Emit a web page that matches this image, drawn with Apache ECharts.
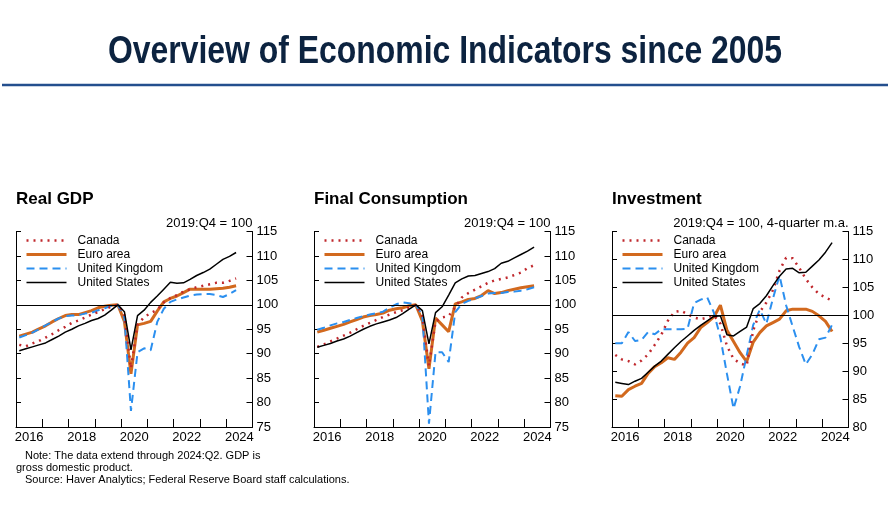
<!DOCTYPE html>
<html><head><meta charset="utf-8">
<script src="https://cdn.jsdelivr.net/npm/echarts@6/dist/echarts.min.js"></script>
<style>html,body{margin:0;padding:0;background:#fff}#c{width:890px;height:506px}</style>
</head><body><div id="c"></div>
<script>
// ---- categories ----
const quarters = [];
for (let y = 2016; y <= 2024; y++) for (let q = 1; q <= 4; q++) quarters.push(y + ':Q' + q);
const yearLabels = ['2016','2017','2018','2019','2020','2021','2022','2023','2024'];
const seriesNames = ['Canada','Euro area','United Kingdom','United States'];

// ---- Real GDP (2019:Q4 = 100), 2016:Q1 - 2024:Q2 ----
const gdpCanada = [91.8,91.5,92.1,92.6,93.3,94.0,94.8,95.5,96.3,96.8,97.4,98.0,98.5,99.1,99.6,100,97.9,87.0,95.9,97.5,98.3,99.0,100.5,101.4,102.0,102.7,103.2,103.6,103.9,104.2,104.5,104.5,104.9,105.4];
const gdpEuro   = [93.6,94.0,94.4,95.1,95.7,96.5,97.2,97.8,98.0,98.0,98.4,98.8,99.4,99.7,99.9,100,96.6,85.9,95.9,96.2,96.6,98.7,100.6,101.3,101.8,102.5,103.2,103.2,103.2,103.2,103.3,103.4,103.6,103.9];
const gdpUK     = [93.3,93.8,94.3,95.0,95.8,96.5,97.2,97.7,97.8,97.9,98.2,98.4,98.9,99.3,99.8,100,97.4,78.3,90.3,91.1,90.7,96.5,99.2,100.6,101.1,101.5,101.9,102.1,102.2,102.2,102.0,101.6,102.2,103.0];
const gdpUS     = [90.6,91.0,91.4,91.8,92.2,92.9,93.6,94.4,95.0,95.7,96.2,96.8,97.2,97.9,98.9,100,98.6,90.8,97.8,98.9,100.5,101.8,103.2,104.6,104.4,104.5,105.2,106.0,106.6,107.3,108.3,109.3,109.9,110.7];

// ---- Final consumption ----
const conCanada = [91.4,91.9,92.5,93.1,93.7,94.3,95.0,95.7,96.3,96.9,97.5,98.0,98.5,98.9,99.5,100,97.6,87.5,96.6,97.4,97.7,99.5,101.5,102.4,103.1,103.8,104.5,105.0,105.3,105.6,106.1,106.6,107.5,108.1];
const conEuro   = [94.4,94.8,95.2,95.6,96.0,96.5,97.0,97.5,97.8,98.0,98.3,98.9,99.2,99.4,99.8,100,96.7,86.9,97.3,95.9,94.5,100.2,100.6,101.1,101.3,101.9,102.9,102.3,102.5,102.9,103.2,103.5,103.7,103.9];
const conUK     = [94.9,95.3,95.8,96.2,96.5,96.9,97.3,97.7,98.0,98.3,98.6,99.4,100.1,100.5,100.3,100,97.8,75.7,90.3,90.3,88.3,98.5,100.2,100.8,101.3,101.8,102.3,102.4,102.4,102.6,102.7,102.9,103.2,103.6];
const conUS     = [91.3,91.7,92.1,92.6,93.0,93.6,94.3,95.0,95.6,96.1,96.5,96.9,97.4,98.2,99.1,100,98.8,92.0,98.4,99.6,102.0,104.5,105.3,105.9,106.0,106.4,106.8,107.4,108.5,108.9,109.6,110.3,111.0,111.8];

// ---- Investment (4-quarter m.a.) ----
const invCanada = [92.9,92.1,91.8,91.2,91.9,93.0,94.7,96.5,99.0,100.6,100.8,100.2,99.6,99.3,99.6,100.0,98.5,94.5,92.2,91.4,91.0,97.3,100.6,102.3,104.5,108.0,110.3,110.2,108.5,106.5,105.0,103.8,103.2,102.6];
const invEuro   = [85.6,85.5,86.7,87.3,87.8,89.6,90.8,91.5,92.4,92.1,93.4,95.0,96.0,97.8,98.7,99.7,101.8,97.3,95.3,93.3,91.7,95.2,96.9,98.1,98.7,99.3,100.8,101.1,101.1,101.1,100.7,99.9,98.9,97.1];
const invUK     = [95.0,95.0,97.0,95.4,95.6,97.0,96.6,97.5,97.5,97.5,97.5,97.6,102.2,102.8,103.2,100.5,96.0,89.5,83.3,87.3,92.8,98.3,101.0,98.5,103.0,107.1,101.8,98.0,94.3,91.2,93.0,95.7,96.0,98.3];
const invUS     = [88.0,87.8,87.6,88.2,88.7,89.8,90.9,91.8,93.0,94.2,95.3,96.3,97.3,98.2,99.0,99.8,99.9,96.5,96.3,97.1,97.9,101.2,102.1,103.5,105.3,107.0,108.3,108.4,107.6,107.7,108.8,109.9,111.3,113.0];

const yTicksGDP = {min: 75, max: 115, interval: 5};
const yTicksInv = {min: 80, max: 115, interval: 5};

const panels = [
  {title: 'Real GDP', note: '2019:Q4 = 100', left: 16, y: yTicksGDP, data: [gdpCanada, gdpEuro, gdpUK, gdpUS]},
  {title: 'Final Consumption', note: '2019:Q4 = 100', left: 314, y: yTicksGDP, data: [conCanada, conEuro, conUK, conUS]},
  {title: 'Investment', note: '2019:Q4 = 100, 4-quarter m.a.', left: 612, y: yTicksInv, data: [invCanada, invEuro, invUK, invUS]}
];

const FONT = "'Liberation Sans', Arial, Helvetica, sans-serif";
const styles = {
  'Canada':         {color: '#c0282d', width: 2.5, type: [2, 5]},
  'Euro area':      {color: '#d2691e', width: 3, type: 'solid'},
  'United Kingdom': {color: '#2b8fef', width: 2, type: [8, 5]},
  'United States':  {color: '#000000', width: 1.5, type: 'solid'}
};
const drawOrder = [1, 2, 0, 3];

const GW = 236.5, GT = 231.5, GH = 195.5;
const option = {
  animation: false,
  textStyle: {fontFamily: FONT},
  grid: [], xAxis: [], yAxis: [], series: [], legend: [], graphic: []
};

panels.forEach((p, i) => {
  option.grid.push({left: p.left, top: GT, width: GW, height: GH, containLabel: false});
  option.xAxis.push({
    type: 'category', gridIndex: i, data: quarters, boundaryGap: true, position: 'bottom',
    axisLine: {show: true, onZero: false, lineStyle: {color: '#000', width: 1}},
    axisTick: {show: true, inside: true, interval: 3, length: 8, lineStyle: {color: '#000', width: 1}},
    axisLabel: {show: false}, splitLine: {show: false}
  });
  option.xAxis.push({
    type: 'category', gridIndex: i, data: yearLabels, boundaryGap: true, position: 'bottom',
    axisLine: {show: false, onZero: false}, axisTick: {show: false},
    axisLabel: {show: true, interval: 1, fontSize: 13, color: '#000', margin: 4, fontFamily: FONT},
    splitLine: {show: false}
  });
  option.yAxis.push({
    type: 'value', gridIndex: i, position: 'right', min: p.y.min, max: p.y.max, interval: p.y.interval,
    axisLine: {show: true, onZero: false, lineStyle: {color: '#000', width: 1}},
    axisTick: {show: true, inside: true, length: 6, lineStyle: {color: '#000'}},
    axisLabel: {show: true, fontSize: 13, color: '#000', margin: 4, fontFamily: FONT},
    splitLine: {show: false}
  });
  option.yAxis.push({
    type: 'value', gridIndex: i, position: 'left', min: p.y.min, max: p.y.max, interval: p.y.interval,
    axisLine: {show: true, onZero: false, lineStyle: {color: '#000', width: 1}},
    axisTick: {show: true, inside: true, length: 5, lineStyle: {color: '#000'}},
    axisLabel: {show: false}, splitLine: {show: false}
  });
  drawOrder.forEach(si => {
    const name = seriesNames[si], st = styles[name];
    const s = {
      type: 'line', name: name, xAxisIndex: 2 * i, yAxisIndex: 2 * i,
      data: p.data[si], symbol: 'none', showSymbol: false, smooth: false,
      lineStyle: {color: st.color, width: st.width, type: st.type, cap: 'butt'},
      itemStyle: {color: st.color}, z: 2 + drawOrder.indexOf(si)
    };
    if (si === 3) {
      s.markLine = {silent: true, symbol: ['none', 'none'], label: {show: false},
        lineStyle: {color: '#000', width: 1, type: 'solid'}, data: [{yAxis: 100}]};
    }
    option.series.push(s);
  });
  option.legend.push({
    orient: 'vertical', left: p.left + 9, top: 234.5, padding: 0,
    itemWidth: 40, itemHeight: 12, itemGap: 2, selectedMode: false,
    data: seriesNames,
    itemStyle: {opacity: 0, borderWidth: 0},
    lineStyle: {width: 'inherit', type: 'inherit'},
    textStyle: {fontSize: 12, color: '#000', fontFamily: FONT, padding: [0, 0, 0, 6]}
  });
  option.graphic.push({type: 'text', silent: true, style: {text: p.title, x: p.left, y: 199.7,
    align: 'left', verticalAlign: 'middle', font: 'bold 17px ' + FONT, fill: '#000'}});
  option.graphic.push({type: 'text', silent: true, style: {text: p.note, x: p.left + GW, y: 223.3,
    align: 'right', verticalAlign: 'middle', font: '13px ' + FONT, fill: '#000'}});
});

option.graphic.push({type: 'text', silent: true, x: 445, y: 53, scaleX: 0.84, scaleY: 1,
  style: {text: 'Overview of Economic Indicators since 2005',
  x: 0, y: 0, align: 'center', verticalAlign: 'middle',
  font: "bold 38px " + FONT, fill: '#0c2340'}});
option.graphic.push({type: 'line', silent: true, shape: {x1: 2, y1: 85, x2: 888, y2: 85},
  style: {stroke: '#244f8e', lineWidth: 2.5}});
const notes = [
  {t: 'Note: The data extend through 2024:Q2. GDP is', x: 25, y: 455.7},
  {t: 'gross domestic product.', x: 16, y: 467.8},
  {t: 'Source: Haver Analytics; Federal Reserve Board staff calculations.', x: 25, y: 479.8}
];
notes.forEach(n => option.graphic.push({type: 'text', silent: true, style: {text: n.t, x: n.x, y: n.y,
  align: 'left', verticalAlign: 'middle', font: '11px ' + FONT, fill: '#000'}}));

const chart = echarts.init(document.getElementById('c'), null, {renderer: 'canvas'});
chart.setOption(option);
</script></body></html>
